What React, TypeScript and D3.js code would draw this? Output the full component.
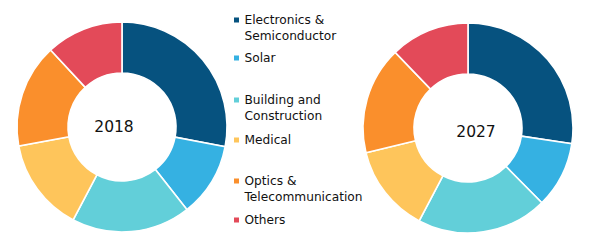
import React from "react";
import * as d3 from "d3";

const categories = [
  "Electronics & Semiconductor",
  "Solar",
  "Building and Construction",
  "Medical",
  "Optics & Telecommunication",
  "Others",
];
const legendLines = [
  ["Electronics &", "Semiconductor"],
  ["Solar"],
  ["Building and", "Construction"],
  ["Medical"],
  ["Optics &", "Telecommunication"],
  ["Others"],
];
const colors = ["#06527F", "#35B1E2", "#62CFD9", "#FEC55B", "#FA8F2C", "#E34A59"];
const values2018 = [28.0, 11.4, 18.3, 14.4, 16.0, 11.9];
const values2027 = [27.4, 10.2, 20.1, 13.5, 16.6, 12.2];
const years = ["2018", "2027"];

const W = 600;
const H = 249;
const FONT = "DejaVu Sans, Arial, sans-serif";

function Donut({ cx, cy, values, label, lx, ly }: { cx: number; cy: number; values: number[]; label: string; lx: number; ly: number }) {
  const pie = d3.pie<number>().sort(null).value((d) => d);
  const arc = d3.arc<d3.PieArcDatum<number>>().innerRadius(54).outerRadius(105);
  const arcs = pie(values);
  return (
    <g transform={`translate(${cx},${cy})`}>
      {arcs.map((a, i) => (
        <path key={i} d={arc(a) || ""} fill={colors[i]} stroke="#fff" strokeWidth={1.6} />
      ))}
      <text x={lx} y={ly} textAnchor="middle" fontFamily={FONT} fontSize={15.5} fill="#111">
        {label}
      </text>
    </g>
  );
}

export default function App() {
  const legendY = [24, 62, 104, 144, 185, 224];
  return (
    <svg width={W} height={H} style={{ position: "absolute", left: 0, top: 0 }}>
      <rect width={W} height={H} fill="#fff" />
      <Donut cx={122} cy={127} values={values2018} label={years[0]} lx={-8} ly={5} />
      <Donut cx={468} cy={128} values={values2027} label={years[1]} lx={8} ly={9} />
      {categories.map((c, i) => (
        <g key={c}>
          <rect x={234} y={legendY[i] - 6.5} width={5} height={5} fill={colors[i]} />
          <text x={244.5} y={legendY[i]} fontFamily={FONT} fontSize={12.2} fill="#111">
            {legendLines[i].map((l, j) => (
              <tspan key={j} x={244.5} dy={j === 0 ? 0 : 16}>
                {l}
              </tspan>
            ))}
          </text>
        </g>
      ))}
    </svg>
  );
}
